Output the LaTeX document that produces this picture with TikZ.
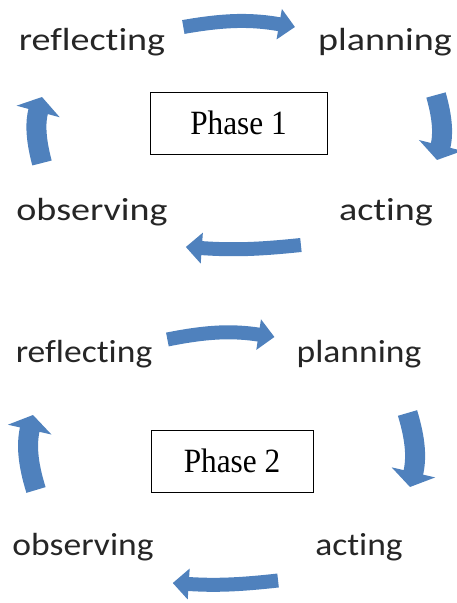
\documentclass[tikz,border=0pt]{standalone}
\usepackage{fontspec}
\usepackage{tikz}
\usetikzlibrary{
    arrows.meta,
    positioning
}
\newfontfamily\stagefonta[FakeStretch=1.19, Ligatures=NoCommon]{Carlito}
\newfontfamily\stagefontb[FakeStretch=1.11, Ligatures=NoCommon]{Carlito}
\newfontfamily\phasefont[FakeStretch=0.92]{Liberation Serif}
\definecolor{cycblue}{RGB}{79,129,189}

\begin{document}
\begin{tikzpicture}[x=1pt, y=1pt,
        stagea/.style={inner sep=0pt, text=black!85, font={\stagefonta\fontsize{32}{36}\selectfont}},
        stageb/.style={inner sep=0pt, text=black!85, font={\stagefontb\fontsize{32}{36}\selectfont}},
        phase/.style={draw, line width=0.8pt, inner sep=0pt, minimum height=62pt, font={\phasefont\fontsize{34}{40}\selectfont}},
        cyc/.style={draw=cycblue, line width=14pt, -{Triangle[width=30pt, length=16pt]}},
        cycv/.style={cyc, line width=20pt, -{Triangle[width=44pt, length=15pt]}}]
    \useasboundingbox (0, 0) rectangle (456, 603);
    % phase 1
    \node[stagea] (r1) at (92, 561) {reflecting};
    \node[stagea] (p1) at (385, 561) {planning};
    \node[stagea] (o1) at (92, 391) {observing};
    \node[stagea] (a1) at (386, 391) {acting};
    \node[phase, minimum width=177pt] (ph1) at (238.5, 480) {Phase 1};
    \draw
    ([shift={(18,15)}]r1.east) edge[cyc, bend left=10] ([shift={(-23,15)}]p1.west)
    ([shift={(51,-53)}]p1.center) edge[cycv, bend left=15] ([shift={(51,52)}]a1.center)
    ([shift={(-38,-33)}]a1.west) edge[cyc, bend left=5] ([shift={(18,-35)}]o1.east)
    ([shift={(-50,49)}]o1.center) edge[cycv, bend left=15] ([shift={(-50,-55)}]r1.center);
    % phase 2
    \node[stageb] (r2) at (84, 249) {reflecting};
    \node[stageb] (p2) at (359, 249) {planning};
    \node[stageb] (o2) at (83, 56) {observing};
    \node[stageb] (a2) at (359, 56) {acting};
    \node[phase, minimum width=162pt] (ph2) at (232, 142) {Phase 2};
    \draw
    ([shift={(15,14.5)}]r2.east) edge[cyc, bend left=10] ([shift={(-22,17)}]p2.west)
    ([shift={(48.5,-59)}]p2.center) edge[cycv, bend left=15] ([shift={(51,60)}]a2.center)
    ([shift={(-37,-33.5)}]a2.west) edge[cyc, bend left=5] ([shift={(19,-36)}]o2.east)
    ([shift={(-47,57)}]o2.center) edge[cycv, bend left=15] ([shift={(-51,-61)}]r2.center);
\end{tikzpicture}
\end{document}
